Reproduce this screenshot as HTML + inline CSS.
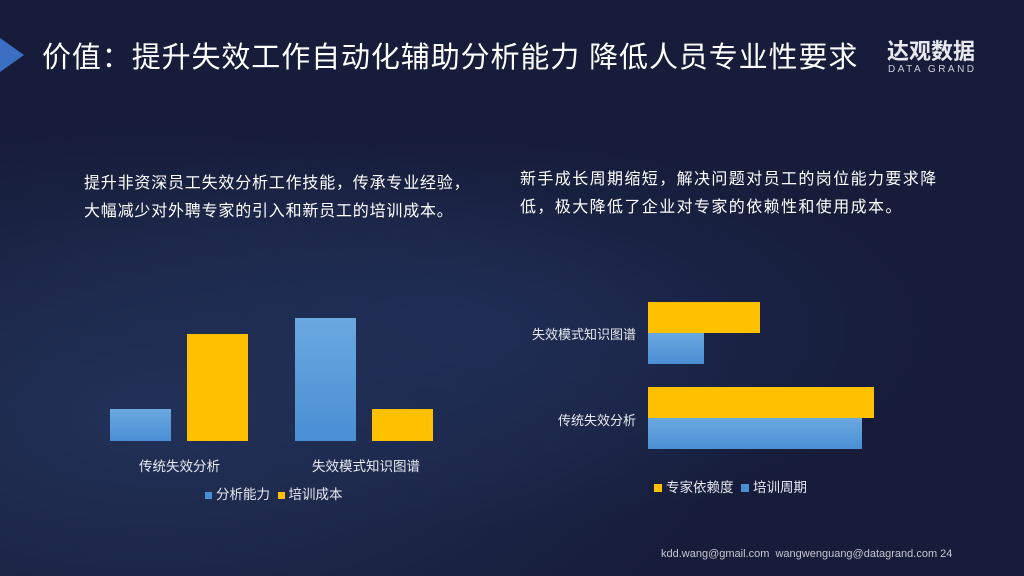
<!DOCTYPE html>
<html><head><meta charset="utf-8"><style>
body{margin:0;width:1024px;height:576px;overflow:hidden;font-family:"Liberation Sans","Noto Sans CJK SC",sans-serif;color:#fff}
.bg{position:absolute;inset:0;background:radial-gradient(ellipse 600px 300px at 150px 420px,#223158 0%,rgba(30,40,80,0) 100%),radial-gradient(ellipse 500px 200px at 450px 330px,#1f2c54 0%,rgba(30,40,80,0) 100%),#161c39}
.a{position:absolute;white-space:nowrap}
.t{font-size:16px;color:#fff;line-height:28px}
.lab{font-size:13.5px;color:#e8e8f0}
</style></head><body><div class="bg"></div>
<div class="a" style="left:0;top:38px;width:0;height:0;border-top:17px solid transparent;border-bottom:17px solid transparent;border-left:24px solid #3a6fc4"></div>
<div class="a" style="left:42px;top:34px;font-size:29px;letter-spacing:0.9px">价值：提升失效工作自动化辅助分析能力 降低人员专业性要求</div>
<div class="a" style="left:887px;top:34px;font-size:22px;font-weight:bold;color:#e8e8ee">达观数据</div>
<div class="a" style="left:888px;top:64px;font-size:10px;letter-spacing:2.5px;color:#d0d0da">DATA GRAND</div>
<div class="a t" style="left:84px;top:170px;letter-spacing:0.8px">提升非资深员工失效分析工作技能，传承专业经验，<br>大幅减少对外聘专家的引入和新员工的培训成本。</div>
<div class="a t" style="left:520px;top:166px;letter-spacing:1.4px">新手成长周期缩短，解决问题对员工的岗位能力要求降<br>低，极大降低了企业对专家的依赖性和使用成本。</div>
<div class="a" style="left:110px;top:409px;width:61px;height:32px;background:linear-gradient(#6aa8e0,#4a8fd4)"></div>
<div class="a" style="left:187px;top:334px;width:61px;height:107px;background:#ffc000"></div>
<div class="a" style="left:295px;top:318px;width:61px;height:123px;background:linear-gradient(#6aa8e0,#4a8fd4)"></div>
<div class="a" style="left:372px;top:409px;width:61px;height:32px;background:#ffc000"></div>
<div class="a lab" style="left:139px;top:455px">传统失效分析</div>
<div class="a lab" style="left:312px;top:455px">失效模式知识图谱</div>
<div class="a lab" style="left:205px;top:483px"><span style="display:inline-block;width:7px;height:7px;background:#4a8fd4;margin-right:4px"></span>分析能力 &nbsp;<span style="display:inline-block;width:7px;height:7px;background:#ffc000;margin-right:4px"></span>培训成本</div>
<div class="a" style="left:648px;top:302px;width:112px;height:31px;background:#ffc000"></div>
<div class="a" style="left:648px;top:333px;width:56px;height:31px;background:linear-gradient(#6aa8e0,#4a8fd4)"></div>
<div class="a" style="left:648px;top:387px;width:226px;height:31px;background:#ffc000"></div>
<div class="a" style="left:648px;top:418px;width:214px;height:31px;background:linear-gradient(#6aa8e0,#4a8fd4)"></div>
<div class="a lab" style="left:532px;top:324px;font-size:13px">失效模式知识图谱</div>
<div class="a lab" style="left:558px;top:410px;font-size:13px">传统失效分析</div>
<div class="a lab" style="left:654px;top:476px"><span style="display:inline-block;width:8px;height:8px;background:#ffc000;margin-right:4px"></span>专家依赖度 &nbsp;<span style="display:inline-block;width:8px;height:8px;background:#4a8fd4;margin-right:4px"></span>培训周期</div>
<div class="a" style="left:661px;top:548px;font-size:11px;color:#c8c8d0">kdd.wang@gmail.com &nbsp;wangwenguang@datagrand.com 24</div>
</body></html>
